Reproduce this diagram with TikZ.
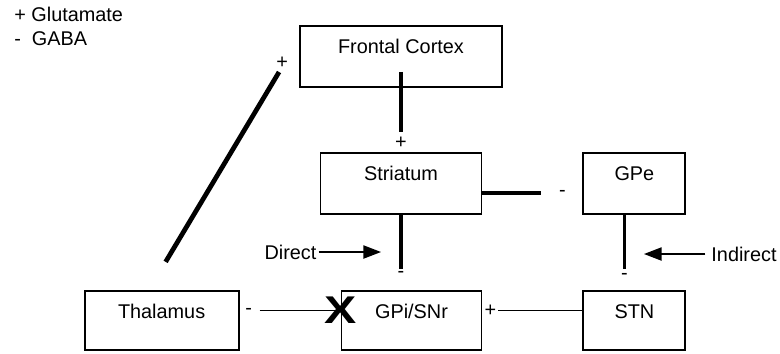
\documentclass[tikz,border=0pt]{standalone}
\usepackage{fontspec}
\setmainfont{Liberation Sans}
\usepackage{tikz}
\usetikzlibrary{positioning, calc, arrows.meta}

\begin{document}
\begin{tikzpicture}[
    x=0.02cm, y=-0.02cm,
    every node/.style={font=\fontsize{11.3pt}{13.7pt}\selectfont},
    area/.style={
        rectangle,
        draw,
        line width=1.1pt,
        inner xsep=0pt,
        inner ysep=0.1cm,
        text height=0.45cm,
        text depth=#1,
        align=center
    },
    area/.default=0.57cm,
    sign/.style={inner sep=0pt},
    heavy/.style={line width=2.7pt},
    medium/.style={line width=1.8pt},
    wire/.style={line width=0.8pt},
    pointer/.style={
        -{Triangle[length=10pt, width=7.5pt]},
        line width=0.8pt
    }
]
\useasboundingbox (0,0) rectangle (780,353);

% Legende
\node[anchor=west, align=left, inner sep=0pt] (legend) at (14,26)
    {+ Glutamate\\-\ \ GABA};

% Blocs
\node[area, minimum width=4.04cm] (fc) at (401,56.5) {Frontal Cortex};

\node[area, minimum width=3.22cm, below=1.28cm of fc] (stri) {Striatum};

\node[area, minimum width=2.04cm, right=2cm of stri] (gpe) {GPe};

\node[area=0.53cm, minimum width=2.04cm, below=1.5cm of gpe] (stn) {STN};

\node[area=0.53cm, minimum width=2.8cm, left=2cm of stn] (gpi) {GPi/SNr};

\node[area=0.53cm, minimum width=3.08cm, left=2.02cm of gpi] (thal) {Thalamus};


% Frontal Cortex -> Striatum : +
\draw[heavy]
    ($(fc.south)+(0,-16)$) -- ($(stri.north)+(0,-20)$);
\node[sign] (p1) at ($(stri.north)+(0,-9)$) {+};

% Thalamus -> Frontal Cortex : +
\draw[heavy]
    ($(thal.north)+(4,-28)$) -- ($(fc.west)+(-20,15.5)$);
\node[sign] (p2) at ($(fc.west)+(-17,6)$) {+};

% Striatum -> GPe : -
\draw[heavy, line width=2.3pt]
    ($(stri.east)+(0,10)$) -- ++(59,0);
\node[sign] (m1) at ($(gpe.west)+(-20,10.5)$) {-};

% GPe -> STN : -
\draw[medium]
    ($(gpe.south)+(-10,0)$) -- ($(stn.north)+(-10,-21)$);
\node[sign] (m2) at ($(stn.north)+(-10,-13)$) {-};

% Striatum -> GPi/SNr : -
\draw[medium]
    (stri.south) -- ($(stri.south |- gpi.north)+(0,-21)$);
\node[sign] (m3) at ($(stri.south |- gpi.north)+(0,-15)$) {-};

% Thalamus <- GPi/SNr : -
\node[sign] (m4) at ($(thal.east)+(9,-9)$) {-};
\draw[wire]
    ($(thal.east)+(20,-10)$) -- ($(gpi.west)+(0,-10)$);
\node[sign, xscale=1.25, font=\bfseries\fontsize{22pt}{22pt}\selectfont] (cross)
    at ($(gpi.west)+(0,-10)$) {X};

% STN -> GPi/SNr : +
\node[sign] (p3) at ($(gpi.east)+(8,-10)$) {+};
\draw[wire]
    ($(gpi.east)+(16,-10)$) -- ($(stn.west)+(0,-10)$);

% Voies
\node[inner xsep=1pt] (direct) at (290.5,252) {Direct};
\coordinate (dirtip) at (381,252);
\draw[pointer] (direct.east) -- (dirtip);

\node (indirect) at (744,254) {Indirect};
\coordinate (indtip) at (644,254);
\draw[pointer] (indirect.west) -- (indtip);

\end{tikzpicture}
\end{document}
